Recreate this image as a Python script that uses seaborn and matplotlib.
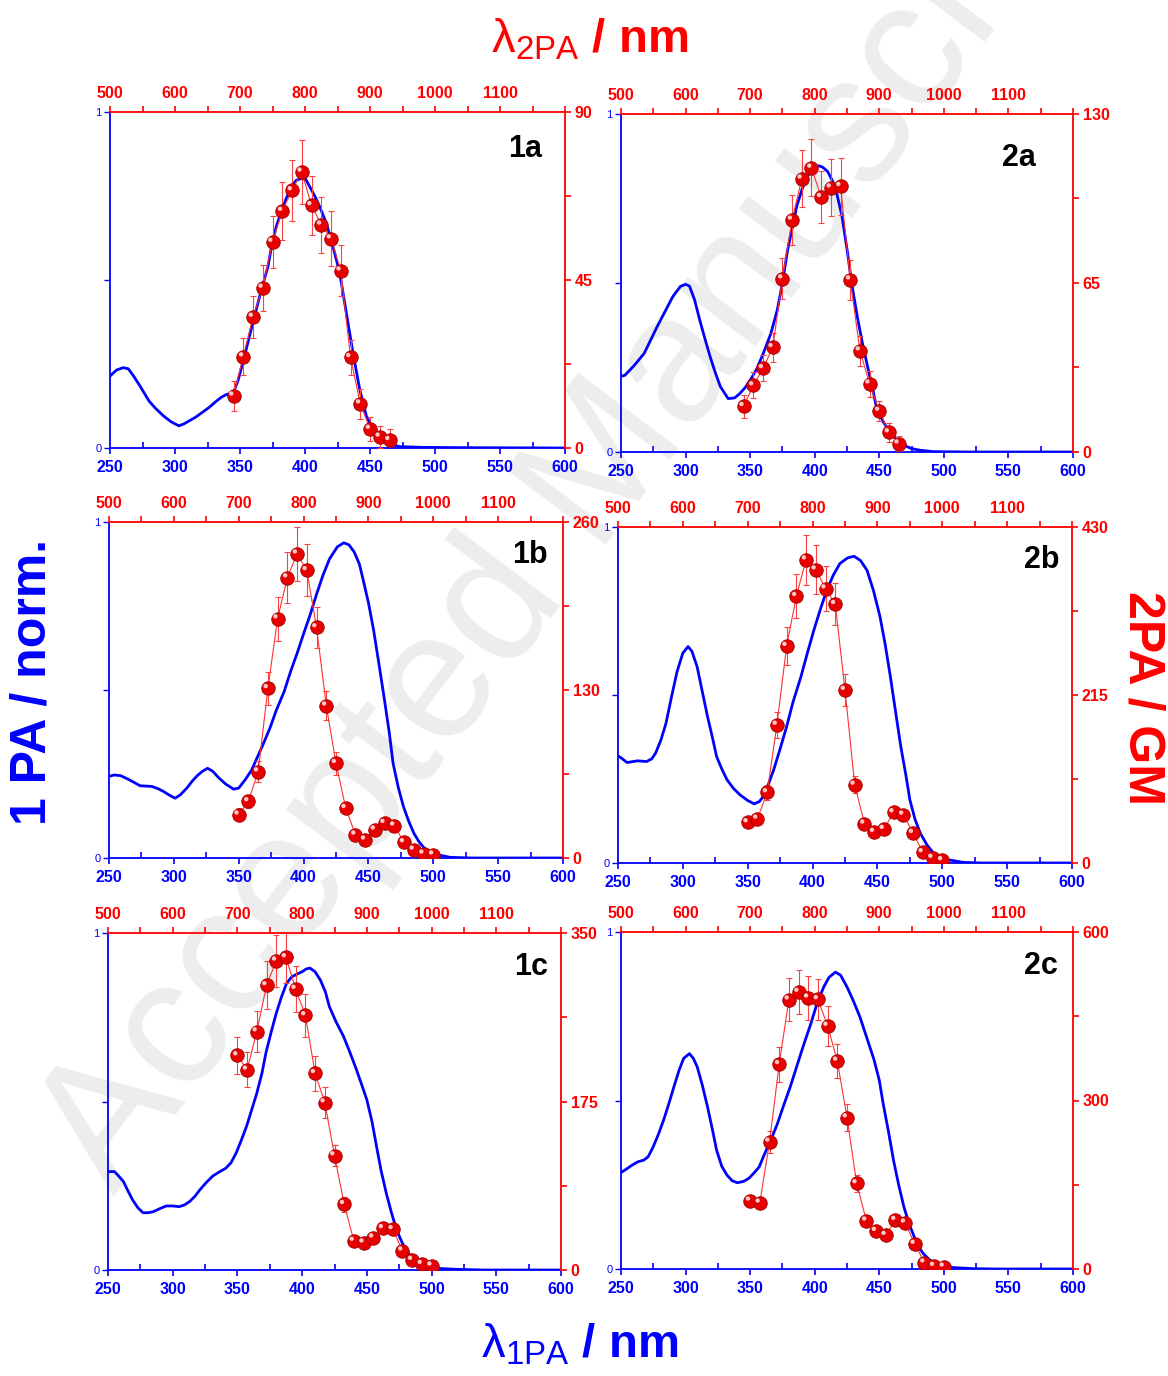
import matplotlib
matplotlib.use("Agg")
import matplotlib.pyplot as plt
import seaborn as sns
from matplotlib.ticker import FixedLocator, FixedFormatter
from matplotlib.transforms import ScaledTranslation

sns.set_style("ticks")
plt.rcParams['font.family'] = ['Liberation Sans', 'DejaVu Sans']
plt.rcParams['mathtext.fontset'] = 'custom'
plt.rcParams['mathtext.rm'] = 'Liberation Sans'
plt.rcParams['mathtext.it'] = 'Liberation Sans:italic'
plt.rcParams['mathtext.bf'] = 'Liberation Sans:bold'

BLUE = '#0000ff'
RED = '#ff0000'

# ---------------- data ----------------
# two-photon excitation wavelengths (nm)
tpa_x_a = [690, 705, 720, 735, 750, 765, 780, 795, 810, 825, 840, 855, 870, 885, 900, 915, 930]
tpa_x_bc = [700, 715, 730, 745, 760, 775, 790, 805, 820, 835, 850, 865, 880, 895, 910, 925, 940,
            955, 970, 985, 1000]

# 2PA cross sections (GM) and error bars
tpa_1a = [14.0, 24.5, 35.1, 42.9, 55.2, 63.5, 69.0, 74.0, 65.0, 59.8, 56.1, 47.5, 24.3, 11.9, 5.1, 3.0, 2.1]
err_1a = [4, 5, 5.6, 6.2, 7, 7.8, 8.2, 8.6, 7.9, 7.5, 7.4, 6.8, 4.7, 4, 3.1, 3, 3]
tpa_2a = [17.6, 25.6, 32.2, 40.3, 66.7, 89.3, 105.1, 109.3, 98.0, 101.7, 102.2, 66.3, 39.0, 26.3, 15.8, 7.5, 3.2]
err_2a = [4.5, 5, 5, 5.5, 8, 9.6, 11, 11, 10, 11, 11, 7.7, 5.8, 5, 4, 3.5, 3]
tpa_1b = [33.5, 43.8, 66.9, 131.3, 185.3, 217.0, 235.5, 222.6, 178.4, 117.9, 73.4, 38.6, 18.0, 14.2,
          21.9, 27.0, 25.0, 12.1, 6.4, 3.3, 2.6]
err_1b = [5, 5, 8, 13, 17, 19.5, 21, 20, 16, 11, 9, 4, 3, 2.5, 3, 3.5, 3, 2.5, 2, 2, 2]
tpa_2b = [51.9, 56.6, 90.3, 176.7, 277.6, 341.4, 388.3, 375.5, 351.2, 331.2, 221.4, 100.0, 50.2, 39.6,
          43.4, 64.7, 61.7, 38.3, 13.6, 6.4, 3.4]
err_2b = [5, 5, 10, 17, 24, 28, 32, 31, 29, 27, 20, 11, 5, 4, 4, 5, 5, 4, 3, 3, 3]
tpa_1c = [222.8, 207.9, 247.7, 295.6, 321.2, 324.7, 291.8, 264.4, 204.4, 173.9, 118.9, 68.3, 30.1, 28.4,
          33.6, 43.3, 42.3, 20.1, 10.4, 6.2, 4.5]
err_1c = [19, 18, 21, 25, 27, 27, 24, 22, 18, 16, 11, 8, 3, 3, 3, 4, 4, 3, 3, 3, 3]
tpa_2c = [121.5, 118.0, 226.4, 364.5, 479.5, 493.2, 483.1, 480.1, 432.7, 370.5, 269.7, 152.3, 86.0, 67.6,
          60.5, 87.1, 82.4, 44.5, 11.3, 5.3, 4.1]
err_2c = [11, 11, 20, 31, 38, 40, 39, 36, 35, 30, 24, 15, 6, 5, 5, 6, 6, 5, 4, 4, 4]

# one-photon absorption spectra (normalised)
abs_1a_x = [250, 255, 260, 264, 268, 273, 280, 285, 291, 297, 303, 307, 311, 316, 321, 326, 332, 336, 340,
            344.5, 348.4, 352.2, 357.3, 362.5, 366.8, 371.5, 374.3, 377.9, 381.7, 385.6, 389.4, 393.3, 397.1,
            400.5, 403.6, 407.5, 411.3, 416.4, 421.5, 426.7, 431.8, 436.9, 442.1, 447.2, 452.4, 457.5, 465.2,
            472.9, 490, 520, 600]
abs_1a_y = [0.214, 0.232, 0.239, 0.236, 0.215, 0.185, 0.140, 0.118, 0.096, 0.078, 0.066, 0.072, 0.081, 0.092,
            0.106, 0.120, 0.140, 0.152, 0.160, 0.160, 0.200, 0.254, 0.333, 0.412, 0.476, 0.540, 0.600, 0.659,
            0.704, 0.743, 0.778, 0.797, 0.802, 0.800, 0.778, 0.750, 0.718, 0.669, 0.600, 0.521, 0.402, 0.283,
            0.174, 0.095, 0.056, 0.026, 0.012, 0.004, 0.002, 0.001, 0.0]

abs_2a_x = [250, 253, 260, 268, 278, 290, 296, 300, 303, 307, 311, 315, 319, 323, 327, 333, 338, 342, 346,
            350, 355, 360, 366, 371, 375, 379, 383, 386, 390, 394, 399, 403, 406, 410, 414, 417, 421, 425,
            429, 433, 437, 441, 445, 448, 453, 459, 464, 469, 475, 482, 492, 520, 600]
abs_2a_y = [0.224, 0.227, 0.255, 0.292, 0.371, 0.459, 0.490, 0.496, 0.491, 0.450, 0.390, 0.335, 0.282, 0.235,
            0.193, 0.158, 0.160, 0.173, 0.190, 0.212, 0.245, 0.290, 0.350, 0.420, 0.500, 0.598, 0.670, 0.726,
            0.775, 0.815, 0.840, 0.847, 0.843, 0.830, 0.800, 0.766, 0.700, 0.600, 0.490, 0.400, 0.320, 0.252,
            0.185, 0.128, 0.090, 0.054, 0.035, 0.020, 0.010, 0.005, 0.001, 0.0, 0.0]

abs_1b_x = [250, 254, 259, 266, 274, 283, 288, 292, 297, 301, 305, 310, 314, 318, 322, 326, 330, 334, 340,
            346, 350, 355, 360, 364, 369, 374, 379, 385, 390, 395, 400, 405, 410, 415, 420, 426, 431, 435,
            439, 443, 446, 450, 454, 458, 462, 466, 469, 473, 477, 481, 485, 489, 493, 498, 503, 513, 530, 600]
abs_1b_y = [0.243, 0.247, 0.245, 0.232, 0.215, 0.213, 0.206, 0.198, 0.186, 0.178, 0.188, 0.208, 0.228, 0.245,
            0.258, 0.267, 0.258, 0.241, 0.220, 0.205, 0.208, 0.233, 0.262, 0.297, 0.340, 0.386, 0.440, 0.495,
            0.555, 0.609, 0.667, 0.723, 0.785, 0.842, 0.890, 0.926, 0.938, 0.932, 0.911, 0.875, 0.827, 0.760,
            0.678, 0.580, 0.480, 0.375, 0.282, 0.210, 0.153, 0.110, 0.074, 0.048, 0.030, 0.017, 0.010, 0.002,
            0.0, 0.0]

abs_2b_x = [250, 252, 257, 265, 272, 276, 279, 283, 287, 291, 295.5, 300, 304, 307, 311, 315, 319, 323, 326,
            330, 334, 339, 344, 350, 355, 359, 362, 366, 370, 375, 380, 385, 391, 396, 401, 406, 411, 416,
            421, 427, 432, 437, 442, 447, 452, 456, 460, 464, 468, 472, 475, 479, 483, 488, 493, 498, 504,
            516, 530, 600]
abs_2b_y = [0.319, 0.314, 0.299, 0.304, 0.302, 0.310, 0.327, 0.365, 0.416, 0.490, 0.569, 0.625, 0.644, 0.630,
            0.584, 0.510, 0.436, 0.370, 0.317, 0.280, 0.248, 0.222, 0.203, 0.186, 0.176, 0.183, 0.198, 0.235,
            0.277, 0.340, 0.406, 0.480, 0.554, 0.625, 0.693, 0.755, 0.812, 0.857, 0.891, 0.908, 0.913, 0.900,
            0.871, 0.810, 0.733, 0.650, 0.554, 0.450, 0.347, 0.260, 0.188, 0.130, 0.089, 0.055, 0.030, 0.016,
            0.010, 0.002, 0.0, 0.0]

abs_1c_x = [250, 255, 258, 262, 265, 269, 273, 277, 281, 285, 290, 295, 300, 305, 309, 313, 317, 321, 326,
            331, 336, 341, 345, 349, 353, 357, 361, 365, 369, 372, 376, 380, 384, 388, 392, 396, 400, 403,
            406, 410, 414, 418, 421, 426, 432, 437, 442, 446, 450, 454, 457.5, 461, 465, 469, 473, 477, 481,
            486, 491, 497, 504, 519, 540, 600]
abs_1c_y = [0.292, 0.292, 0.280, 0.262, 0.238, 0.208, 0.185, 0.170, 0.170, 0.173, 0.182, 0.190, 0.190, 0.188,
            0.193, 0.203, 0.218, 0.238, 0.260, 0.279, 0.291, 0.302, 0.318, 0.347, 0.385, 0.426, 0.475, 0.525,
            0.585, 0.644, 0.705, 0.762, 0.810, 0.851, 0.870, 0.878, 0.885, 0.893, 0.896, 0.885, 0.861, 0.825,
            0.782, 0.738, 0.693, 0.645, 0.594, 0.550, 0.505, 0.440, 0.366, 0.295, 0.228, 0.170, 0.119, 0.083,
            0.054, 0.033, 0.020, 0.010, 0.005, 0.002, 0.0, 0.0]

abs_2c_x = [250, 254, 258.5, 263, 267.6, 271, 275, 279, 283, 287, 291, 295, 298.5, 303, 306, 309, 313, 317,
            321, 324, 328, 332, 336, 340, 345, 349, 353, 357, 361, 366, 371, 376, 381, 386, 391, 397, 402,
            407, 411, 416, 420, 425, 430, 435, 440, 446, 450, 453, 457, 461, 465, 469, 473, 477, 480, 484,
            489, 495, 501, 508, 523, 540, 600]
abs_2c_y = [0.286, 0.296, 0.308, 0.318, 0.323, 0.333, 0.363, 0.400, 0.442, 0.490, 0.541, 0.590, 0.625, 0.639,
            0.625, 0.600, 0.545, 0.481, 0.410, 0.353, 0.305, 0.279, 0.262, 0.256, 0.260, 0.269, 0.285, 0.303,
            0.340, 0.382, 0.430, 0.486, 0.540, 0.600, 0.660, 0.728, 0.790, 0.837, 0.865, 0.881, 0.872, 0.837,
            0.795, 0.748, 0.690, 0.620, 0.560, 0.491, 0.410, 0.323, 0.250, 0.185, 0.135, 0.096, 0.068, 0.046,
            0.027, 0.014, 0.008, 0.004, 0.001, 0.0, 0.0]

panel_labels = ['1a', '2a', '1b', '2b', '1c', '2c']
tpa_max = [90, 130, 260, 430, 350, 600]
bottom_ticks = [250, 300, 350, 400, 450, 500, 550, 600]
top_ticks = [500, 600, 700, 800, 900, 1000, 1100, 1200]
top_tick_labels = ['500', '600', '700', '800', '900', '1000', '1100', '']

panels = [
    (abs_1a_x, abs_1a_y, tpa_x_a, tpa_1a, err_1a),
    (abs_2a_x, abs_2a_y, tpa_x_a, tpa_2a, err_2a),
    (abs_1b_x, abs_1b_y, tpa_x_bc, tpa_1b, err_1b),
    (abs_2b_x, abs_2b_y, tpa_x_bc, tpa_2b, err_2b),
    (abs_1c_x, abs_1c_y, tpa_x_bc, tpa_1c, err_1c),
    (abs_2c_x, abs_2c_y, tpa_x_bc, tpa_2c, err_2c),
]

# ---------------- layout (pixel boxes: left, top, right, bottom) ----------------
W, H = 1168, 1376
boxes = [(110, 112, 565, 448), (621, 114, 1073, 452),
         (109, 522, 563, 858), (618, 527, 1072, 863),
         (108, 933, 561, 1270), (621, 932, 1073, 1269)]
label_pos = [(0.950, 0.935), (0.917, 0.915), (0.967, 0.945), (0.973, 0.945), (0.971, 0.945), (0.966, 0.945)]

fig = plt.figure(figsize=(W / 100, H / 100), dpi=100)
fig.patch.set_facecolor('white')

# watermark
fig.text(0.50, 0.64, 'Accepted Manuscript', rotation=53, fontsize=130, color='#ededed',
         ha='center', va='center', zorder=-10, family=['Liberation Sans'])

for (l, t, r, b), lab, lp, ymax, (bx, by, tx, tv, te) in zip(boxes, panel_labels, label_pos, tpa_max, panels):
    rect = [l / W, 1 - b / H, (r - l) / W, (b - t) / H]

    # --- 1PA axes (bottom / left, blue)
    ax = fig.add_axes(rect)
    ax.set_facecolor('none')
    sns.lineplot(x=bx, y=by, ax=ax, color=BLUE, lw=2.0, estimator=None, sort=False)
    ax.set_xlim(250, 600)
    ax.set_ylim(0, 1)
    ax.spines['top'].set_visible(False)
    ax.spines['right'].set_visible(False)
    for s in ('left', 'bottom'):
        ax.spines[s].set_color(BLUE)
        ax.spines[s].set_linewidth(1.3)
    ax.xaxis.set_major_locator(FixedLocator(bottom_ticks))
    ax.xaxis.set_minor_locator(FixedLocator([275, 325, 375, 425, 475, 525, 575]))
    ax.yaxis.set_major_locator(FixedLocator([0, 0.5, 1]))
    ax.yaxis.set_major_formatter(FixedFormatter(['0', '', '1']))
    ax.xaxis.set_major_formatter(FixedFormatter([str(v) for v in bottom_ticks]))
    ax.tick_params(axis='x', which='major', direction='out', length=4, width=1.2, color=BLUE,
                   labelcolor=BLUE, labelsize=11.5, pad=4.5, bottom=True)
    ax.tick_params(axis='x', which='minor', direction='in', length=4, width=1.2, color=BLUE, bottom=True)
    ax.tick_params(axis='y', which='major', direction='out', length=4, width=1.0, color=BLUE,
                   labelcolor=BLUE, labelsize=8, pad=2, left=True)
    for tl in ax.get_xticklabels():
        tl.set_fontweight('bold')
    ax.set_xlabel('')
    ax.set_ylabel('')

    # --- 2PA axes (top / right, red)
    axr = fig.add_axes(rect)
    axr.set_facecolor('none')
    axr.errorbar(tx, tv, yerr=te, fmt='none', ecolor='#ff4040', elinewidth=0.8, capsize=2.5,
                 capthick=0.8, zorder=2)
    sns.lineplot(x=tx, y=tv, ax=axr, color='#ff3030', lw=0.8, estimator=None, sort=False, zorder=3)
    sns.scatterplot(x=tx, y=tv, ax=axr, color='#e80000', s=95, edgecolor='#a00000', linewidth=0.6,
                    zorder=4)
    hl = axr.transData + ScaledTranslation(-1.6 / 72, 1.6 / 72, fig.dpi_scale_trans)
    sns.scatterplot(x=tx, y=tv, ax=axr, color='#ffc8c8', s=10, edgecolor='none', zorder=5, transform=hl)
    axr.set_xlim(500, 1200)
    axr.set_ylim(0, ymax)
    axr.xaxis.tick_top()
    axr.yaxis.tick_right()
    axr.spines['left'].set_visible(False)
    axr.spines['bottom'].set_visible(False)
    for s in ('top', 'right'):
        axr.spines[s].set_color(RED)
        axr.spines[s].set_linewidth(1.3)
    axr.xaxis.set_major_locator(FixedLocator(top_ticks))
    axr.xaxis.set_major_formatter(FixedFormatter(top_tick_labels))
    axr.xaxis.set_minor_locator(FixedLocator([550, 650, 750, 850, 950, 1050, 1150]))
    axr.yaxis.set_major_locator(FixedLocator([0, ymax / 2, ymax]))
    axr.yaxis.set_major_formatter(FixedFormatter(['0', f'{ymax / 2:g}', f'{ymax:g}']))
    axr.yaxis.set_minor_locator(FixedLocator([ymax / 4, 3 * ymax / 4]))
    axr.tick_params(axis='x', which='both', direction='out', length=4, width=1.2, color=RED,
                    labelcolor=RED, labelsize=11.5, pad=4, top=True, bottom=False,
                    labeltop=True, labelbottom=False)
    axr.tick_params(axis='y', which='both', direction='out', length=4, width=1.2, color=RED,
                    labelcolor=RED, labelsize=11.5, pad=3, right=True, left=False,
                    labelright=True, labelleft=False)
    for tl in axr.get_xticklabels() + axr.get_yticklabels():
        tl.set_fontweight('bold')
    axr.set_xlabel('')
    axr.set_ylabel('')

    axr.text(lp[0], lp[1], lab, transform=axr.transAxes, ha='right', va='top', fontsize=22,
             fontweight='bold', color='black')

# ---------------- axis titles ----------------
fig.text(590 / W, 1 - 40 / H, r'$\mathrm{\lambda_{2PA}}\ \mathbf{/\ nm}$', color=RED, fontsize=34,
         ha='center', va='center')
fig.text(580 / W, 1 - 1345 / H, r'$\mathrm{\lambda_{1PA}}\ \mathbf{/\ nm}$', color=BLUE, fontsize=34,
         ha='center', va='center')
fig.text(33 / W, 1 - 682 / H, '1 PA / norm.', color=BLUE, fontsize=36, fontweight='bold',
         rotation=90, ha='center', va='center')
fig.text(1142 / W, 1 - 698 / H, '2PA / GM', color=RED, fontsize=36, fontweight='bold',
         rotation=-90, ha='center', va='center')

fig.savefig('out.png', dpi=100, facecolor='white')
